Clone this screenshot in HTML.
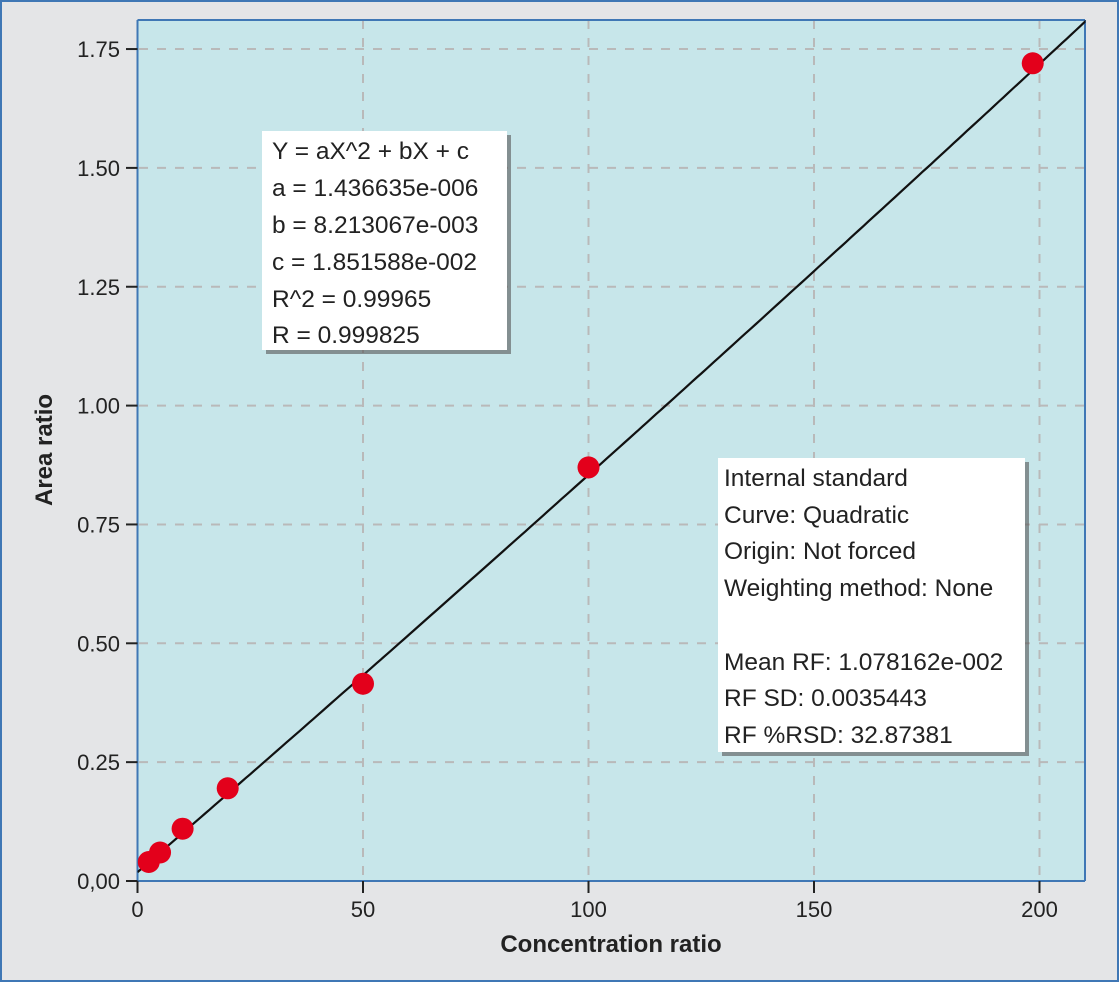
<!DOCTYPE html>
<html><head><meta charset="utf-8"><style>
body{margin:0;background:#fff;}
svg text{font-family:"Liberation Sans",sans-serif;}
</style></head><body>
<svg width="1119" height="982" viewBox="0 0 1119 982" xmlns="http://www.w3.org/2000/svg">
<rect x="1" y="1" width="1117" height="980" fill="#e4e5e7" stroke="#3f77b5" stroke-width="2"/>
<rect x="137.5" y="20" width="948" height="861" fill="#c7e6ea"/>
<g id="grid"></g>
<line x1="137.5" y1="20" x2="137.5" y2="881" stroke="#3f77b5" stroke-width="2"/>
<line x1="137.5" y1="881" x2="1085" y2="881" stroke="#3f77b5" stroke-width="2"/>
<line x1="137.5" y1="20" x2="1085" y2="20" stroke="#3f77b5" stroke-width="2"/>
<line x1="1085" y1="20" x2="1085" y2="881" stroke="#3f77b5" stroke-width="2"/>
<g id="ticks"></g>
<clipPath id="pc"><rect x="137.5" y="20" width="948" height="861"/></clipPath>
<g id="series" clip-path="url(#pc)"></g>
<text x="611" y="952" font-size="24" font-weight="bold" text-anchor="middle" fill="#222">Concentration ratio</text>
<text x="0" y="0" font-size="24" font-weight="bold" text-anchor="middle" fill="#222" transform="translate(52,450) rotate(-90)">Area ratio</text>
<g>
<rect x="266" y="135" width="245" height="219" fill="#555" opacity="0.6"/>
<rect x="262" y="131" width="245" height="219" fill="#fff"/>
<g font-size="24.5" fill="#222">
<text x="272" y="159">Y = aX^2 + bX + c</text>
<text x="272" y="196">a = 1.436635e-006</text>
<text x="272" y="233">b = 8.213067e-003</text>
<text x="272" y="270">c = 1.851588e-002</text>
<text x="272" y="307">R^2 = 0.99965</text>
<text x="272" y="343">R = 0.999825</text>
</g></g>
<g>
<rect x="722" y="462" width="307" height="294" fill="#555" opacity="0.6"/>
<rect x="718" y="458" width="307" height="294" fill="#fff"/>
<g font-size="24.5" fill="#222">
<text x="724" y="486">Internal standard</text>
<text x="724" y="523">Curve: Quadratic</text>
<text x="724" y="559">Origin: Not forced</text>
<text x="724" y="596">Weighting method: None</text>
<text x="724" y="670">Mean RF: 1.078162e-002</text>
<text x="724" y="706">RF SD: 0.0035443</text>
<text x="724" y="743">RF %RSD: 32.87381</text>
</g></g>
<script>
const xTicks=[0,50,100,150,200];
const yTicks=[0,0.25,0.5,0.75,1.0,1.25,1.5,1.75];
const yTickLabels=["0,00","0.25","0.50","0.75","1.00","1.25","1.50","1.75"];
const pointsX=[2.5,5,10,20,50,100,198.5];
const pointsY=[0.04,0.06,0.11,0.195,0.415,0.87,1.72];
const coefA=1.436635e-6, coefB=8.213067e-3, coefC=1.851588e-2;
const NS="http://www.w3.org/2000/svg";
const X0=137.5, XS=4.51, Y0=881, YS=118.85/0.25;
function sx(v){return X0+v*XS;}
function sy(v){return Y0-v*YS;}
function mk(t,a,p){const e=document.createElementNS(NS,t);for(const k in a)e.setAttribute(k,a[k]);p.appendChild(e);return e;}
const grid=document.getElementById('grid'),ticks=document.getElementById('ticks'),series=document.getElementById('series');
xTicks.forEach(v=>{
 if(v>0){const g=mk('line',{x1:sx(v),x2:sx(v),y1:20,y2:881,stroke:'#b9b9b9','stroke-width':2,'stroke-dasharray':'9 9'},grid);
 
 }
 const t=mk('line',{x1:sx(v),x2:sx(v),y1:881,y2:893,stroke:'#222','stroke-width':2},ticks);
 
 
 const l=mk('text',{x:sx(v),y:917,'font-size':22,'text-anchor':'middle',fill:'#222'},ticks);l.textContent=v;
 
 
});
yTicks.forEach((v,i)=>{
 if(v>0){const g=mk('line',{x1:139,x2:1085,y1:sy(v),y2:sy(v),stroke:'#b9b9b9','stroke-width':2,'stroke-dasharray':'9 9'},grid);
 
 }
 const t=mk('line',{x1:126,x2:137.5,y1:sy(v),y2:sy(v),stroke:'#222','stroke-width':2},ticks);
 
 
 const l=mk('text',{x:120,y:sy(v)+8,'font-size':22,'text-anchor':'end',fill:'#222'},ticks);l.textContent=yTickLabels[i];
 
 
});
let d='';for(let x=0;x<=215;x+=1){const y=coefA*x*x+coefB*x+coefC;d+=(x?'L':'M')+sx(x).toFixed(1)+' '+sy(y).toFixed(1);}
const c=mk('path',{d:d,fill:'none',stroke:'#111','stroke-width':2.2},series);


pointsX.forEach((x,i)=>{
 const p=mk('circle',{cx:sx(x),cy:sy(pointsY[i]),r:11,fill:'#e3001b'},series);
 
 
});
</script>
</svg>
</body></html>
